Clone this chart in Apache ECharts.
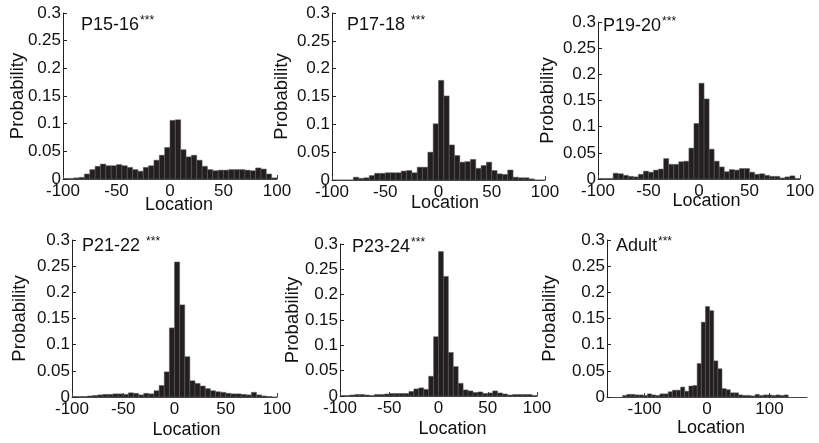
<!DOCTYPE html>
<html>
<head>
<meta charset="utf-8">
<script src="https://cdn.jsdelivr.net/npm/echarts@6/dist/echarts.min.js"></script>
<style>html,body{margin:0;padding:0;background:#fff;}#c{width:819px;height:443px;}</style>
</head>
<body>
<div id="c"></div>
<script>
// ---- Data (probability per bin) ----
const panelTitles = ['P15-16', 'P17-18 ', 'P19-20', 'P21-22 ', 'P23-24', 'Adult'];
const p1516 = [0.001,0.001,0.002,0.003,0.009,0.017,0.023,0.027,0.024,0.024,0.026,0.024,0.021,0.017,0.014,0.021,0.024,0.034,0.043,0.057,0.106,0.107,0.053,0.040,0.043,0.034,0.023,0.017,0.015,0.016,0.016,0.017,0.017,0.017,0.016,0.015,0.020,0.018,0.009,0.002];
const p1718 = [0,0,0,0,0.005,0.003,0.004,0.008,0.012,0.012,0.013,0.013,0.013,0.016,0.017,0.013,0.023,0.023,0.050,0.101,0.179,0.151,0.063,0.044,0.032,0.033,0.037,0.021,0.026,0.032,0.017,0.011,0.010,0.018,0.005,0.004,0.004,0.002,0,0];
const p1920 = [0.001,0.001,0.001,0.011,0.010,0.007,0.005,0.004,0.009,0.015,0.013,0.017,0.019,0.039,0.028,0.028,0.033,0.034,0.059,0.106,0.183,0.153,0.057,0.034,0.023,0.014,0.018,0.017,0.020,0.020,0.013,0.009,0.010,0.007,0.005,0.005,0.002,0.004,0.006,0.001];
const p2122 = [0.001,0.001,0.001,0.002,0.003,0.004,0.005,0.005,0.006,0.006,0.005,0.008,0.007,0.004,0.007,0.006,0.012,0.022,0.048,0.132,0.258,0.176,0.077,0.031,0.026,0.021,0.016,0.012,0.010,0.009,0.007,0.006,0.006,0.005,0.004,0.009,0.004,0.002,0.001,0];
const p2324 = [0.001,0.001,0.002,0.003,0.003,0.002,0.001,0.003,0.003,0.004,0.005,0.005,0.005,0.005,0.009,0.014,0.016,0.013,0.039,0.117,0.285,0.236,0.086,0.058,0.025,0.012,0.010,0.007,0.008,0.005,0.006,0.010,0.006,0.004,0.002,0.003,0.003,0.003,0.003,0.001];
const adult = [0.003,0.005,0.005,0.004,0.004,0.003,0.006,0.004,0.003,0.006,0.006,0.010,0.013,0.013,0.019,0.011,0.021,0.022,0.064,0.143,0.173,0.165,0.069,0.054,0.016,0.014,0.008,0.008,0.004,0.003,0.003,0.002,0.005,0.003,0.004,0.004,0.003,0.004,0.003,0.004];
const seriesValues = [p1516, p1718, p1920, p2122, p2324, adult];
// histogram bin definitions: first left edge and bin width per panel
const binStart = [-100, -100, -100, -100, -100, -135];
const binWidth = [5, 5, 5, 5, 5, 6.625];
// axes
const xRange = [[-100,100],[-100,100],[-100,100],[-100,100],[-100,100],[-160,160]];
const xTicks = [[-100,-50,0,50,100],[-100,-50,0,50,100],[-100,-50,0,50,100],[-100,-50,0,50,100],[-100,-50,0,50,100],[-100,0,100]];
const yTicks = [0, 0.05, 0.1, 0.15, 0.2, 0.25, 0.3];

// ---- Layout ----
const grids = [
  {left: 63, top: 13, width: 214, height: 166},
  {left: 332, top: 13, width: 213, height: 167},
  {left: 598, top: 22, width: 202, height: 157},
  {left: 72, top: 240, width: 205, height: 157},
  {left: 340, top: 244, width: 197, height: 152},
  {left: 607, top: 240, width: 200, height: 157}
];
const yNameGap = [36, 41, 41, 43, 38, 48];
const xNameGap = [17, 14, 13, 24, 24, 22];
const xNameShift = [18, 13, 15, 24, 28, 8];
const titlePos = [[81, 15], [347, 15], [603, 16], [82, 236], [352, 237], [616, 236]];

const FONT = 'Liberation Sans, Arial, sans-serif';
const option = {
  animation: false,
  backgroundColor: '#fff',
  title: [], grid: [], xAxis: [], yAxis: [], series: []
};

for (let i = 0; i < 6; i++) {
  option.grid.push(Object.assign({containLabel: false}, grids[i]));
  option.title.push({
    text: '{m|' + panelTitles[i] + '}{s|***}',
    left: titlePos[i][0], top: titlePos[i][1], padding: 0,
    textStyle: {
      fontFamily: FONT, fontWeight: 'normal',
      rich: {
        m: {fontSize: 18, color: '#111', fontFamily: FONT, fontWeight: 'normal', lineHeight: 21},
        s: {fontSize: 12, color: '#111', fontFamily: FONT, fontWeight: 'normal', verticalAlign: 'top', lineHeight: 21, padding: [0,0,7,1]}
      }
    }
  });
  option.xAxis.push({
    type: 'value', gridIndex: i, min: xRange[i][0], max: xRange[i][1],
    name: 'Location', nameLocation: 'middle', nameGap: xNameGap[i], nameMoveOverlap: false,
    nameTextStyle: {fontFamily: FONT, fontSize: 18, color: '#111', padding: [0, 0, 0, xNameShift[i]]},
    axisLine: {show: true, onZero: false, lineStyle: {color: '#444', width: 1}},
    axisTick: {show: true, inside: true, length: 4, customValues: xTicks[i], lineStyle: {color: '#444'}},
    axisLabel: {customValues: xTicks[i], fontFamily: FONT, fontSize: 17, color: '#111', margin: 4},
    splitLine: {show: false}
  });
  option.yAxis.push({
    type: 'value', gridIndex: i, min: 0, max: 0.3,
    name: 'Probability', nameLocation: 'middle', nameGap: yNameGap[i], nameMoveOverlap: false,
    nameTextStyle: {fontFamily: FONT, fontSize: 18.5, color: '#111'},
    axisLine: {show: true, onZero: false, lineStyle: {color: '#222', width: 1}},
    axisTick: {show: true, inside: true, length: 4, customValues: yTicks, lineStyle: {color: '#222'}},
    axisLabel: {customValues: yTicks, fontFamily: FONT, fontSize: 17, color: '#111', margin: 2,
      formatter: v => String(+v.toFixed(2))},
    splitLine: {show: false}
  });
  const data = seriesValues[i].map((v, k) => {
    const lo = binStart[i] + k * binWidth[i];
    return [lo, lo + binWidth[i], v];
  });
  option.series.push({
    type: 'custom', xAxisIndex: i, yAxisIndex: i, clip: true,
    encode: {x: [0, 1], y: 2},
    data: data,
    renderItem: function (params, api) {
      const p0 = api.coord([api.value(0), 0]);
      const p1 = api.coord([api.value(1), api.value(2)]);
      return {
        type: 'rect',
        shape: {x: p0[0], y: p1[1], width: p1[0] - p0[0], height: p0[1] - p1[1]},
        style: {fill: '#231f20', stroke: '#5a5a5a', lineWidth: 0.5}
      };
    }
  });
}

const chart = echarts.init(document.getElementById('c'), null, {renderer: 'canvas'});
chart.setOption(option);
</script>
</body>
</html>
